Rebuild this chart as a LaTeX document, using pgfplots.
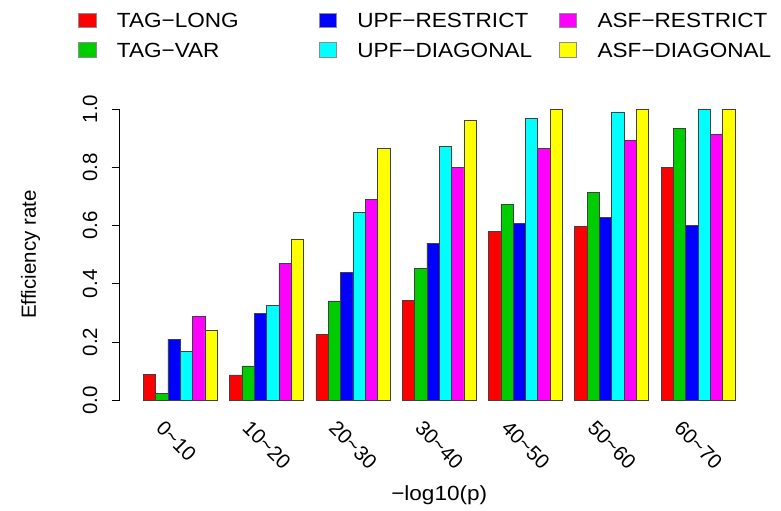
\documentclass[border=0pt]{standalone}
\usepackage{fontspec}
\setmainfont{Liberation Sans}
\newfontfamily\widefont[FakeStretch=1.1]{Liberation Sans}
\usepackage{pgfplots}
\usepackage{pgfplotstable}
\pgfplotsset{compat=1.18}
\definecolor{rred}{RGB}{255,0,0}
\definecolor{rgreen}{RGB}{0,205,0}
\definecolor{rblue}{RGB}{0,0,255}
\definecolor{rcyan}{RGB}{0,255,255}
\definecolor{rmagenta}{RGB}{255,0,255}
\definecolor{ryellow}{RGB}{255,255,0}
\newcommand{\rfont}{\fontsize{20.5bp}{24bp}\selectfont}
\newcommand{\wfont}{\widefont\fontsize{20.5bp}{24bp}\selectfont}

% efficiency rate per -log10(p) bin (g = bin index)
\pgfplotstableread{
g taglong tagvar upfres upfdiag asfres asfdiag
0 0.089 0.023 0.210 0.169 0.289 0.241
1 0.087 0.118 0.297 0.325 0.471 0.554
2 0.227 0.341 0.440 0.645 0.690 0.864
3 0.343 0.454 0.539 0.871 0.800 0.960
4 0.581 0.673 0.606 0.969 0.865 1.000
5 0.598 0.714 0.629 0.990 0.891 1.000
6 0.800 0.934 0.601 1.000 0.914 1.000
}\effdata

\pgfplotsset{
  rbar/.style={ybar, bar width=1, bar shift=0pt, fill=#1, draw=black!75, line width=0.7bp,
    legend image code/.code={
      \path[draw=none, fill=none] (0bp,0bp) -- (38.3bp,0bp);
      \draw[fill=#1, draw=gray!90, line width=0.7bp] (0bp,-7.35bp) rectangle (17.3bp,7.35bp);
    }},
}

\begin{document}
\rfont
\begin{tikzpicture}
\begin{axis}[
  scale only axis, width=639.2bp, height=291.3bp,
  xmin=-0.92, xmax=50.92, ymin=0, ymax=1,
  axis y line*=left, axis x line*=bottom,
  x axis line style={draw=none},
  y axis line style={black, line width=0.8bp},
  xtick={4,11,18,25,32,39,46},
  xticklabels={0\textasciitilde10,10\textasciitilde20,20\textasciitilde30,30\textasciitilde40,40\textasciitilde50,50\textasciitilde60,60\textasciitilde70},
  xtick style={draw=none},
  ytick={0,0.2,0.4,0.6,0.8,1},
  ytick style={black, line width=0.8bp},
  tick align=outside, major tick length=8bp,
  xticklabel style={font=\rfont, xshift=-15bp, yshift=-11bp, rotate=-45, anchor=north west, inner sep=0pt},
  yticklabel style={font=\rfont, xshift=-14.5bp, rotate=90, anchor=base, inner sep=0pt,
    /pgf/number format/fixed, /pgf/number format/fixed zerofill,
    /pgf/number format/precision=1, /pgf/number format/assume math mode=true},
  xlabel={−log10(p)},
  ylabel={Efficiency rate},
  xlabel style={font=\wfont, at={(axis description cs:0.5,-0.3423)}, anchor=base, inner sep=0pt},
  ylabel style={font=\rfont, at={(axis description cs:-0.1308,0.5)}, anchor=base, inner sep=0pt},
  legend columns=3, legend cell align=left,
  legend style={at={(axis description cs:-0.0646,1.3306)}, anchor=north west,
    draw=none, fill=none, inner sep=0pt, outer sep=0pt, column sep=0pt, row sep=14bp,
    font=\wfont, nodes={inner sep=0pt, text height=14.7bp, text depth=0pt}},
]
\addplot[rbar=rred]     table[x expr=7*\thisrow{g}+1.5, y=taglong] {\effdata};
\addlegendentry{\makebox[201.7bp][l]{TAG−LONG}}
\addplot[rbar=rblue]    table[x expr=7*\thisrow{g}+3.5, y=upfres]  {\effdata};
\addlegendentry{\makebox[201.7bp][l]{UPF−RESTRICT}}
\addplot[rbar=rmagenta] table[x expr=7*\thisrow{g}+5.5, y=asfres]  {\effdata};
\addlegendentry{\makebox[201.7bp][l]{ASF−RESTRICT}}
\addplot[rbar=rgreen]   table[x expr=7*\thisrow{g}+2.5, y=tagvar]  {\effdata};
\addlegendentry{\makebox[201.7bp][l]{TAG−VAR}}
\addplot[rbar=rcyan]    table[x expr=7*\thisrow{g}+4.5, y=upfdiag] {\effdata};
\addlegendentry{\makebox[201.7bp][l]{UPF−DIAGONAL}}
\addplot[rbar=ryellow]  table[x expr=7*\thisrow{g}+6.5, y=asfdiag] {\effdata};
\addlegendentry{\makebox[201.7bp][l]{ASF−DIAGONAL}}
\end{axis}
\pgfresetboundingbox
\path[use as bounding box] (-119.6bp,-110.7bp) rectangle (661.4bp,400.3bp);
\end{tikzpicture}
\end{document}
